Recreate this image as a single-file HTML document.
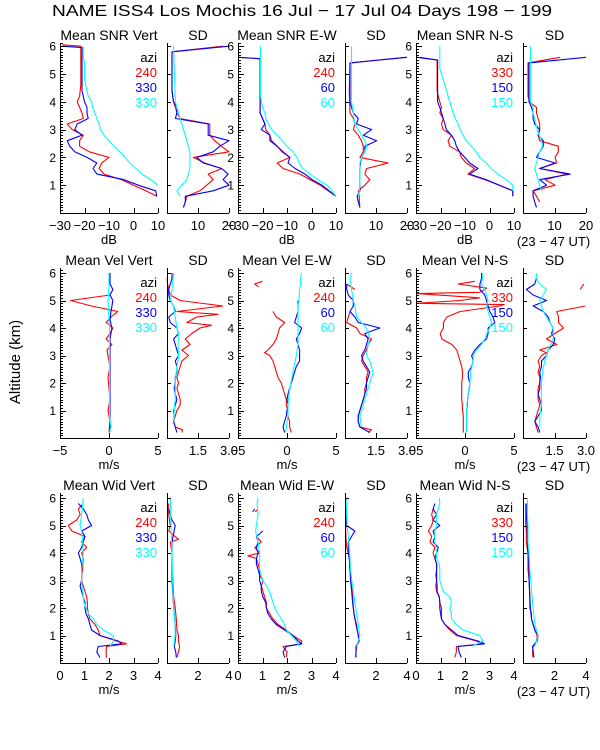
<!DOCTYPE html>
<html><head><meta charset="utf-8">
<style>
html,body{margin:0;padding:0;background:#fff;}
svg{display:block;font-family:"Liberation Sans",sans-serif;}
</style></head>
<body>
<svg id="chart" width="600" height="750" viewBox="0 0 600 750" xmlns="http://www.w3.org/2000/svg">
<rect x="0" y="0" width="600" height="750" fill="#fff"/>
<text x="52" y="16" font-size="16" textLength="500" lengthAdjust="spacingAndGlyphs">NAME ISS4 Los Mochis  16 Jul − 17 Jul 04 Days 198 − 199</text>
<text x="0" y="0" font-size="15" text-anchor="middle" transform="translate(20,362) rotate(-90)">Altitude (km)</text>
<g id="plots"></g>
</svg>
<script>
// ---------- Row 1: SNR (dB) ----------
const snrVert240 = [[0.6,9.5],[0.8,5],[1.0,0],[1.2,-5],[1.4,-12],[1.6,-14],[1.8,-13],[2.0,-10],[2.2,-18],[2.4,-22],[2.6,-22],[2.8,-20.5],[3.0,-25],[3.2,-27],[3.4,-20.5],[3.6,-21],[3.8,-22],[4.0,-23],[4.2,-22],[4.6,-21.5],[5.0,-21.5],[5.4,-21.5],[5.8,-21.5],[6.0,-21.5],[6.05,-29]];
const snrVert330b = [[0.6,9.5],[0.8,9],[1.0,2],[1.2,-4],[1.4,-15],[1.6,-16.5],[1.8,-15],[2.0,-19],[2.2,-24],[2.4,-26],[2.6,-27],[2.8,-21],[3.0,-24],[3.2,-23],[3.4,-18.5],[3.6,-19],[3.8,-19],[4.0,-20],[4.4,-21],[5.0,-21],[5.6,-21],[5.95,-21],[6.0,-29]];
const snrVert330c = [[1.0,10],[1.2,7],[1.4,3.5],[1.6,1],[1.8,-1.5],[2.0,-3.5],[2.2,-5.5],[2.4,-8],[2.6,-10],[2.8,-12],[3.0,-13.5],[3.2,-14],[3.4,-15],[3.6,-15.7],[3.8,-16.7],[4.0,-17],[4.2,-18.5],[4.4,-19],[4.6,-19.5],[4.8,-20],[5.4,-20],[5.6,-20.5],[6.0,-20.5]];
const snrVertSd240 = [[0.2,5.3],[0.4,5.9],[0.6,6.4],[0.8,10.6],[1.0,12.8],[1.2,14.9],[1.4,13.3],[1.6,17.6],[1.8,12.2],[2.0,8.5],[2.2,20],[2.4,17.6],[2.6,15.4],[2.8,13.8],[3.0,13.8],[3.2,13.8],[3.4,4.3],[3.6,3.2],[3.8,2.7],[4.0,2.1],[4.4,1.6],[5.0,1.6],[5.8,1.6],[6.0,18.1]];
const snrVertSd330b = [[0.2,5.3],[0.4,5.9],[0.6,5.9],[0.8,14.9],[1.0,20],[1.2,18.1],[1.4,19.7],[1.6,17.6],[1.8,11.7],[2.0,9.6],[2.2,14.9],[2.4,17],[2.6,20],[2.8,13.3],[3.0,13.3],[3.2,13.3],[3.4,2.7],[3.6,3.2],[3.8,3.2],[4.0,2.1],[4.4,1.6],[5.8,1.6],[6.0,20]];
const snrVertSd330c = [[0.6,4.3],[0.8,3.2],[1.0,4.8],[1.2,6.4],[1.4,6.9],[1.6,7.4],[1.8,7.4],[2.0,7.4],[2.2,7.4],[2.4,6.9],[2.6,6.4],[2.8,5.9],[3.0,5.3],[3.2,4.8],[3.4,4.3],[3.6,3.7],[3.8,3.2],[4.0,2.7],[5.0,2.4],[6.0,2.1]];
const snrEw240 = [[0.6,10],[1.0,3.5],[1.2,-0.6],[1.4,-4.7],[1.6,-11.6],[1.8,-14],[2.0,-8.8],[2.2,-11.6],[2.4,-14],[2.6,-16.3],[2.8,-17],[3.0,-18.7],[3.2,-19],[3.4,-20],[3.6,-21],[5.4,-21],[5.55,-21],[5.6,-30]];
const snrEw60b = [[0.6,10],[1.0,4.3],[1.2,0.2],[1.4,-2.7],[1.6,-6.7],[1.8,-9.6],[2.0,-8.8],[2.2,-12],[2.4,-14],[2.6,-17],[2.8,-17],[3.0,-20.5],[3.2,-19],[3.4,-20],[3.6,-21],[5.4,-21],[5.55,-21],[5.6,-30]];
const snrEw60c = [[0.6,10],[0.8,8.4],[1.0,6.3],[1.2,2.7],[1.4,-0.6],[1.6,-3.5],[1.8,-5],[2.0,-6],[2.2,-7.5],[2.4,-10],[2.6,-12],[2.8,-14],[3.0,-16.3],[3.2,-17.5],[3.4,-18.7],[3.6,-19],[3.8,-20],[4.0,-20.4],[4.2,-20.8],[6.0,-20.8]];
const snrEwSd240 = [[0.2,4.8],[0.4,4.6],[0.6,4.6],[0.8,4.3],[1.0,6.4],[1.2,8],[1.4,6.4],[1.6,7],[1.8,13.9],[2.0,4.8],[2.2,5.9],[2.4,5.9],[2.6,5.3],[2.8,4.3],[3.0,2.7],[3.2,3.2],[3.4,2.7],[3.6,1.6],[4.4,1.4],[5.4,1.6],[5.6,19.8]];
const snrEwSd60b = [[0.2,4.8],[0.4,4.3],[0.6,3.9],[0.8,4.8],[1.0,4.8],[1.2,4.8],[1.4,4.8],[1.6,4.8],[1.8,5.0],[2.0,5.3],[2.2,6.4],[2.4,6.4],[2.6,10.2],[2.8,5.9],[3.0,8.6],[3.2,3.7],[3.4,4.3],[3.6,2.7],[3.8,2.1],[4.0,1.6],[5.4,1.6],[5.6,20]];
const snrEwSd60c = [[0.6,4.3],[0.8,4.6],[1.0,4.8],[1.8,4.8],[2.0,5.3],[2.2,6.4],[2.4,7.0],[2.6,6.4],[2.8,5.3],[3.0,4.3],[3.2,3.2],[3.4,2.9],[3.6,2.7],[3.8,2.4],[4.0,2.1],[6.0,2.1]];
const snrNs330 = [[0.6,9.5],[0.8,9.5],[1.0,4],[1.2,-2],[1.4,-8.8],[1.6,-6.1],[1.8,-9.5],[2.0,-11.5],[2.2,-12.2],[2.4,-16.2],[2.6,-16.9],[2.8,-15.5],[3.0,-18.9],[3.2,-19.6],[3.4,-18.9],[3.6,-20.3],[3.8,-19.6],[4.0,-20.3],[4.2,-20.9],[4.4,-21.4],[5.5,-21.4],[5.6,-28.4]];
const snrNs150b = [[0.6,9.5],[0.8,9.5],[1.0,4],[1.2,-1.4],[1.4,-8.1],[1.6,-4.7],[1.8,-8.1],[2.0,-10.1],[2.2,-12.2],[2.4,-13.5],[2.6,-14.2],[2.8,-15.5],[3.0,-17.6],[3.2,-18.2],[3.4,-18.9],[3.6,-19.6],[3.8,-20.3],[4.0,-21.2],[5.5,-21.2],[5.6,-29.7]];
const snrNs150c = [[0.8,9.5],[1.0,9.5],[1.2,6.8],[1.4,3.4],[1.6,0.7],[1.8,-1.4],[2.0,-4],[2.2,-5.4],[2.4,-7.4],[2.6,-9.5],[2.8,-10.8],[3.0,-12],[3.2,-12.8],[3.4,-14],[3.6,-14.8],[3.8,-15.5],[4.0,-16.2],[4.2,-16.9],[4.4,-17.6],[4.6,-18.2],[4.8,-18.9],[5.0,-19.6],[5.2,-20.3],[6.0,-20.3]];
const snrNsSd330 = [[0.4,5.3],[0.6,4.3],[0.8,3.2],[1.0,10.2],[1.2,7.0],[1.4,13.9],[1.6,5.3],[1.8,10.7],[2.0,10.2],[2.2,11.2],[2.4,11.2],[2.6,5.3],[2.8,4.8],[3.0,5.3],[3.2,5.3],[3.4,4.8],[3.6,4.3],[3.8,4.3],[4.0,2.1],[4.2,1.6],[5.4,1.6],[5.6,11.8]];
const snrNsSd150b = [[0.2,4.3],[0.4,3.7],[0.6,3.2],[0.8,3.2],[1.0,7.5],[1.2,5.3],[1.4,15],[1.6,5.3],[1.8,10.2],[2.0,4.3],[2.2,5.3],[2.4,6.4],[2.6,6.4],[2.8,4.8],[3.0,5.3],[3.2,3.7],[3.4,3.2],[3.6,3.2],[3.8,2.7],[4.0,1.9],[5.4,1.9],[5.6,20]];
const snrNsSd150c = [[0.8,5.9],[1.0,5.3],[1.2,4.8],[1.4,4.3],[1.6,3.7],[1.8,4.3],[2.0,4.8],[2.2,5.3],[2.4,6.2],[2.6,5.9],[2.8,5.1],[3.0,4.5],[3.2,4.1],[3.4,3.7],[3.6,3.2],[3.8,3.2],[4.0,2.4],[6.0,2.4]];
// ---------- Row 2: velocity (m/s) ----------
const velVert240 = [[0.2,0],[0.6,0.1],[1.0,-0.1],[1.4,0.1],[1.8,0],[2.2,-0.1],[2.6,0.1],[3.0,-0.1],[3.2,-0.2],[3.4,0.3],[3.6,-0.3],[3.8,0.1],[4.0,0.4],[4.2,-0.3],[4.4,0.2],[4.6,0.9],[4.8,-1.8],[5.0,-3.9],[5.2,0.1]];
const velVert330b = [[0.2,0.1],[1.0,0.1],[2.0,0.1],[3.0,0.1],[3.6,0.1],[4.0,0.3],[4.3,0.1],[4.6,0.2],[5.0,0.4],[5.2,0.1],[5.4,0.4],[5.6,0.1],[5.8,0.1],[6.0,0.1]];
const velVert330c = [[0.2,0.05],[0.4,0.2],[0.8,0.05],[2.0,0.05],[3.0,0.05],[4.0,0.05],[5.0,-0.1],[5.4,0],[6.0,0]];
const velVertSd240 = [[0.2,0.72],[0.3,0.75],[0.4,0.4],[0.6,0.32],[0.8,0.4],[1.0,0.48],[1.2,0.64],[1.4,0.64],[1.6,0.56],[1.8,0.48],[2.0,0.56],[2.2,0.48],[2.4,0.56],[2.6,0.64],[2.8,0.72],[3.0,1.04],[3.2,0.72],[3.4,1.12],[3.6,0.88],[3.8,1.2],[4.0,1.6],[4.1,2.15],[4.2,0.96],[4.4,1.44],[4.5,2.47],[4.6,0.48],[4.8,2.7],[5.0,0.64],[5.2,0.16],[5.4,0.08],[5.6,0.03],[5.8,0]];
const velVertSd330b = [[0.2,0.48],[0.4,0.4],[0.6,0.32],[0.8,0.35],[1.0,0.32],[1.2,0.4],[1.4,0.48],[1.6,0.4],[1.8,0.35],[2.0,0.4],[2.2,0.4],[2.4,0.48],[2.6,0.48],[2.8,0.4],[3.0,0.56],[3.2,0.48],[3.4,0.4],[3.6,0.32],[3.8,0.56],[4.0,0.48],[4.2,0.16],[4.4,0.08],[4.6,0.4],[4.8,0.32],[5.0,0.16],[5.2,0.08],[5.4,0.08],[5.6,0.16],[5.8,0.24],[6.0,0.24]];
const velVertSd330c = [[0.6,0.32],[0.8,0.35],[1.0,0.35],[1.2,0.37],[1.4,0.4],[1.6,0.4],[2.0,0.4],[2.4,0.45],[3.0,0.56],[3.4,0.53],[3.8,0.56],[4.0,0.48],[4.4,0.4],[4.8,0.32],[5.0,0.16],[5.4,0.24],[6.0,0.32]];
const velEw240 = [[0.2,0.44],[0.4,0.27],[0.6,0.27],[0.8,0.1],[1.0,0.1],[1.2,-0.07],[1.4,-0.07],[1.6,-0.24],[1.8,-0.41],[2.0,-0.58],[2.2,-0.92],[2.4,-1.09],[2.6,-1.26],[2.8,-1.43],[3.0,-1.77],[3.1,-2.3],[3.2,-1.94],[3.4,-1.43],[3.6,-1.09],[3.8,-0.92],[4.0,-0.75],[4.2,-0.24],[4.4,-1.09],[4.6,-1.43],[4.7,null],[5.5,-2.9],[5.6,-3.3],[5.7,-2.5]];
const velEw60b = [[0.2,-0.24],[0.4,-0.41],[0.6,-0.24],[0.8,-0.07],[1.0,0],[1.2,0.1],[1.4,0],[1.6,0.1],[1.8,0.27],[2.0,0.44],[2.2,0.61],[2.4,0.78],[2.6,0.95],[2.8,1.29],[3.0,1.29],[3.2,1.29],[3.4,1.12],[3.6,0.95],[3.8,1.29],[4.0,1.5],[4.2,0.78],[4.4,0.95],[4.6,1.12],[4.8,1.12],[5.0,1.12]];
const velEw60c = [[0.2,-0.14],[0.4,-0.07],[0.8,0.1],[1.2,0.1],[1.6,0.2],[2.0,0.4],[2.4,0.61],[3.0,0.95],[3.4,1.12],[4.0,1.12],[4.4,1.12],[4.8,1.12],[5.0,1.22],[5.4,1.29],[5.6,1.39],[5.8,1.39],[6.0,1.46]];
const velEwSd240 = [[0.2,1.12],[0.3,1.28],[0.4,0.72],[0.6,0.64],[0.8,0.64],[1.0,0.72],[1.2,0.8],[1.4,0.88],[1.6,0.96],[1.8,0.96],[2.0,1.04],[2.2,1.04],[2.4,1.12],[2.6,0.96],[2.8,0.8],[3.0,0.88],[3.2,1.04],[3.4,1.12],[3.6,1.28],[3.8,0.72],[4.0,0.56],[4.2,0.08],[4.4,0.16],[4.6,0.24],[4.7,null],[5.4,0.48],[5.6,0.08]];
const velEwSd60b = [[0.2,1.2],[0.4,0.72],[0.6,0.64],[0.8,0.64],[1.0,0.72],[1.2,0.8],[1.4,0.88],[1.6,0.96],[1.8,1.04],[2.0,1.04],[2.2,1.12],[2.4,1.2],[2.6,1.04],[2.8,0.88],[3.0,0.8],[3.2,0.96],[3.4,1.04],[3.6,1.12],[3.8,0.96],[4.0,1.69],[4.2,0.64],[4.4,0.48],[4.6,0.24],[4.8,0.4],[5.0,0.4],[5.2,0.16],[5.4,0.08],[5.6,0.08]];
const velEwSd60c = [[0.4,0.8],[0.8,0.72],[1.2,0.88],[1.6,1.04],[2.0,1.2],[2.4,1.36],[2.8,1.2],[3.0,1.04],[3.4,1.12],[3.6,1.2],[4.0,1.04],[4.2,0.8],[4.4,0.56],[4.8,0.48],[5.0,0.4],[5.4,0.32],[5.8,0.24],[6.0,0.32]];
const velNs330 = [[0.2,-0.17],[0.8,-0.17],[1.0,-0.24],[1.2,-0.27],[1.4,-0.34],[2.0,-0.34],[2.2,-0.27],[2.4,-0.24],[2.6,-0.34],[2.8,-0.5],[3.0,-0.67],[3.2,-0.84],[3.4,-1.35],[3.6,-2.36],[3.8,-2.53],[4.0,-2.2],[4.2,-2.2],[4.4,-1.85],[4.6,-0.5],[4.8,3.5],[4.85,4.0],[4.9,-4.9],[5.0,-0.5],[5.1,1.5],[5.25,-4.9],[5.3,1.5],[5.45,2.2],[5.6,-0.7],[5.7,1.0]];
const velNs150b = [[0.2,0.17],[1.0,0.17],[1.2,0.24],[1.4,0.27],[1.6,0.34],[1.8,0.44],[2.0,0.5],[2.2,0.34],[2.4,0.34],[2.6,0.67],[2.8,0.84],[3.0,0.67],[3.2,1.01],[3.4,1.52],[3.6,2.19],[3.8,2.36],[4.0,2.36],[4.2,3.03],[4.4,2.86],[4.6,2.53],[4.8,2.36],[5.0,2.19],[5.2,2.02],[5.4,1.52],[5.6,1.52],[5.8,1.68],[6.0,1.68]];
const velNs150c = [[0.2,0.17],[1.0,0.17],[1.4,0.24],[2.0,0.5],[2.4,0.57],[2.8,0.84],[3.0,0.84],[3.2,1.18],[3.4,1.68],[3.6,2.02],[3.8,2.19],[4.0,2.53],[4.2,2.7],[4.4,2.53],[4.6,2.36],[4.8,2.19],[5.0,2.36],[5.2,2.19],[5.4,2.02],[5.6,1.68],[5.8,1.78],[6.0,1.78]];
const velNsSd330 = [[0.2,0.72],[0.4,0.64],[0.6,0.56],[0.8,0.64],[1.0,0.72],[1.2,0.8],[1.4,0.72],[1.8,0.72],[2.0,0.8],[2.2,0.8],[2.4,0.72],[2.6,0.8],[2.8,0.72],[3.0,0.88],[3.1,1.12],[3.2,0.8],[3.4,1.61],[3.6,1.12],[3.8,1.52],[4.0,1.93],[4.2,1.69],[4.4,1.69],[4.6,1.61],[4.8,2.97],[4.9,null],[5.4,2.73],[5.6,2.89]];
const velNsSd150b = [[0.2,0.8],[0.4,0.72],[0.6,0.56],[0.8,0.72],[1.0,0.88],[1.2,0.88],[1.4,0.8],[1.6,0.72],[1.8,0.8],[2.0,0.8],[2.2,0.83],[2.4,0.8],[2.6,0.88],[2.8,0.88],[3.0,1.12],[3.2,1.2],[3.4,1.44],[3.6,1.52],[3.8,1.36],[4.0,1.44],[4.2,1.28],[4.4,1.2],[4.6,0.96],[4.8,0.48],[5.0,1.12],[5.2,0.48],[5.4,0.16],[5.6,0.56],[5.8,0.64]];
const velNsSd150c = [[0.4,0.8],[0.8,0.8],[1.2,0.88],[1.6,0.88],[2.0,0.88],[2.4,0.93],[2.8,1.04],[3.2,1.2],[3.6,1.44],[4.0,1.44],[4.2,1.28],[4.4,1.12],[4.6,0.96],[4.8,0.88],[5.0,0.8],[5.2,0.96],[5.4,1.12],[5.6,0.8],[5.8,0.64],[6.0,0.64]];
// ---------- Row 3: spectral width (m/s) ----------
const widVert240 = [[0.2,1.9],[0.4,1.88],[0.6,1.9],[0.7,2.72],[0.8,2.31],[1.0,1.63],[1.2,1.56],[1.4,1.43],[1.6,1.22],[1.8,1.16],[2.0,1.12],[2.2,1.12],[2.4,1.09],[2.6,1.02],[2.8,0.95],[3.0,0.88],[3.2,0.88],[3.4,0.93],[3.6,0.93],[3.8,0.95],[4.0,0.88],[4.2,1.09],[4.4,0.88],[4.6,1.02],[4.8,0.48],[5.0,0.34],[5.2,0.68],[5.4,0.82],[5.6,0.75],[5.8,0.95]];
const widVert330b = [[0.2,1.63],[0.4,1.5],[0.6,1.56],[0.7,2.52],[0.8,2.38],[1.0,1.63],[1.2,1.29],[1.4,1.22],[1.6,1.16],[1.8,1.06],[2.0,1.02],[2.2,1.02],[2.4,0.95],[2.6,0.88],[2.8,0.82],[3.0,0.88],[3.2,0.88],[3.4,0.88],[3.6,0.88],[3.8,0.82],[4.0,0.75],[4.2,0.88],[4.4,0.95],[4.6,1.02],[4.8,0.88],[5.0,1.29],[5.2,1.16],[5.4,1.09],[5.6,0.95],[5.8,0.75]];
const widVert330c = [[0.6,2.04],[0.8,2.18],[1.0,2.18],[1.2,1.77],[1.4,1.5],[1.6,1.36],[1.8,1.16],[2.0,1.06],[2.2,0.98],[2.4,0.95],[2.6,0.93],[2.8,0.9],[3.0,0.88],[3.4,0.88],[3.8,0.93],[4.0,0.95],[4.4,0.93],[4.8,0.88],[5.0,0.82],[5.4,0.88],[5.8,0.93],[6.0,0.95]];
const widVertSd240 = [[0.2,0.64],[0.4,0.74],[0.6,0.81],[0.8,0.74],[1.0,0.74],[1.2,0.64],[1.6,0.6],[2.0,0.53],[2.4,0.43],[3.0,0.38],[3.6,0.32],[4.0,0.32],[4.4,0.21],[4.5,0.74],[4.8,0.11],[5.0,0.21],[5.4,0.11],[5.8,0.11]];
const widVertSd330b = [[0.2,0.6],[0.4,0.57],[0.6,0.47],[0.8,0.53],[1.0,0.57],[1.4,0.53],[2.0,0.43],[3.0,0.32],[4.0,0.32],[4.4,0.32],[5.0,0.53],[5.2,0.32],[5.6,0.11]];
const widVertSd330c = [[0.6,0.43],[1.0,0.53],[1.4,0.53],[2.0,0.43],[3.0,0.36],[4.0,0.32],[5.0,0.26],[6.0,0.21]];
const widEw240 = [[0.2,1.97],[0.4,2.0],[0.6,1.84],[0.7,2.6],[0.8,2.59],[1.0,2.24],[1.2,1.97],[1.4,1.63],[1.6,1.43],[1.8,1.29],[2.0,1.16],[2.2,1.16],[2.4,1.09],[2.6,1.02],[2.8,0.95],[3.0,1.02],[3.2,0.88],[3.4,0.88],[3.6,0.82],[3.8,0.75],[3.9,0.4],[4.0,0.88],[4.2,0.68],[4.4,0.95],[4.6,0.75],[4.7,null],[5.5,0.7],[5.6,0.82]];
const widEw60b = [[0.2,1.9],[0.4,1.84],[0.6,1.97],[0.7,2.6],[0.8,2.45],[1.0,2.24],[1.2,1.9],[1.4,1.56],[1.6,1.36],[1.8,1.22],[2.0,1.16],[2.2,1.13],[2.4,1.02],[2.6,0.95],[2.8,0.95],[3.0,0.88],[3.2,0.88],[3.4,0.82],[3.6,0.75],[3.8,0.75],[4.0,0.82],[4.2,0.75],[4.4,0.82],[4.6,0.75],[4.8,1.02],[4.9,null],[5.5,0.6],[5.6,0.68]];
const widEw60c = [[0.6,2.5],[0.8,2.38],[1.0,2.18],[1.2,1.97],[1.4,1.9],[1.6,1.77],[1.8,1.63],[2.0,1.5],[2.2,1.43],[2.4,1.36],[2.6,1.29],[2.8,1.16],[3.0,1.02],[3.2,0.95],[3.4,0.88],[3.6,0.88],[4.0,0.88],[4.4,0.82],[4.8,0.72],[5.0,0.75],[5.4,0.82],[5.8,0.78],[6.0,0.82]];
const widEwSd240 = [[0.2,0.69],[0.4,0.71],[0.6,0.75],[0.8,0.92],[1.0,0.86],[1.2,0.79],[1.4,0.75],[1.6,0.64],[1.8,0.58],[2.0,0.54],[2.4,0.49],[2.8,0.43],[3.0,0.43],[3.4,0.32],[3.8,0.28],[4.0,0.21],[4.2,0.11],[4.6,0.06],[5.0,0.04],[5.6,0.06]];
const widEwSd60b = [[0.2,0.71],[0.6,0.71],[0.8,0.88],[1.0,0.86],[1.4,0.71],[1.8,0.58],[2.2,0.49],[2.6,0.43],[3.0,0.36],[3.4,0.32],[3.8,0.28],[4.0,0.21],[4.4,0.21],[4.8,0.64],[5.0,0.11],[5.6,0.06]];
const widEwSd60c = [[0.6,0.75],[1.0,0.96],[1.4,0.86],[1.8,0.75],[2.2,0.64],[2.6,0.54],[3.0,0.43],[3.4,0.36],[3.8,0.32],[4.2,0.28],[4.6,0.21],[5.0,0.15],[5.4,0.11],[6.0,0.11]];
const widNs330 = [[0.2,1.58],[0.4,1.65],[0.6,1.65],[0.7,2.73],[0.8,2.46],[1.0,1.65],[1.2,1.38],[1.4,1.18],[1.6,1.04],[2.0,1.04],[2.2,0.97],[2.4,0.95],[2.6,0.84],[2.8,0.81],[3.0,0.84],[3.2,0.81],[3.4,0.84],[3.6,0.84],[3.8,0.77],[4.0,0.7],[4.2,0.77],[4.4,0.57],[4.6,0.64],[4.8,0.5],[5.0,0.64],[5.2,0.7],[5.4,0.64],[5.6,0.7]];
const widNs150b = [[0.2,1.85],[0.4,1.76],[0.6,1.72],[0.7,2.8],[0.8,2.53],[1.0,1.72],[1.2,1.45],[1.4,1.18],[1.6,1.04],[1.8,1.0],[2.0,0.97],[2.2,0.97],[2.4,0.95],[2.6,0.86],[2.8,0.86],[3.0,0.84],[3.6,0.84],[3.8,0.77],[4.0,0.84],[4.2,0.91],[4.4,0.7],[4.6,0.77],[4.8,0.7],[5.0,0.97],[5.2,0.7],[5.4,0.84],[5.6,0.7],[5.8,0.77]];
const widNs150c = [[0.6,2.26],[0.8,2.73],[1.0,2.6],[1.2,1.92],[1.4,1.65],[1.6,1.45],[1.8,1.45],[2.0,1.38],[2.2,1.45],[2.4,1.38],[2.6,1.11],[2.8,1.04],[3.0,0.97],[3.4,0.97],[3.6,0.95],[3.8,0.84],[4.0,0.84],[4.4,0.77],[4.8,0.77],[5.0,0.84],[5.4,0.84],[5.8,0.97],[6.0,0.95]];
const widNsSd330 = [[0.2,0.64],[0.4,0.6],[0.6,0.64],[0.8,0.86],[1.0,0.9],[1.2,0.75],[1.4,0.64],[1.6,0.54],[1.8,0.54],[2.0,0.43],[2.4,0.43],[3.0,0.39],[3.4,0.32],[4.0,0.32],[4.4,0.21],[4.8,0.21],[5.0,0.17],[5.8,0.17]];
const widNsSd150b = [[0.2,0.69],[0.6,0.6],[0.8,0.9],[1.0,0.96],[1.2,0.75],[1.6,0.54],[2.0,0.47],[2.4,0.43],[3.0,0.39],[3.4,0.39],[4.0,0.32],[4.4,0.28],[5.0,0.26],[5.4,0.21],[5.8,0.21]];
const widNsSd150c = [[0.6,0.75],[0.8,0.86],[1.0,0.96],[1.4,0.75],[2.0,0.64],[2.4,0.58],[3.0,0.49],[3.4,0.43],[4.0,0.39],[4.4,0.32],[5.0,0.32],[5.4,0.28],[6.0,0.28]];

// tick labels
const snrTicks = [-30,-20,-10,0,10];
const snrSdTicks = [10,20];
const velTicks = [-5,0,5];
const velSdTicks = [1.5,3.0];
const widTicks = [0,1,2,3,4];
const widSdTicks = [2,4];
const altTicks = [1,2,3,4,5,6];
const legend1 = ['240','330','330'], legend2 = ['240','60','60'], legend3 = ['330','150','150'];

// layout (not data)
const colX = [[60,158],[167,229],[238,336],[345,407],[416,514],[523,586]];
const rowsLayout = [
  {bottom:213, k:27.8, unit:'dB', tag:'snr'},
  {bottom:438, k:27.5, unit:'m/s', tag:'vel'},
  {bottom:663, k:27.5, unit:'m/s', tag:'wid'}
];
const COLORS = ['#ff0000','#0000ff','#00ffff'];
const rows = [
  [
    {title:'Mean SNR Vert', dom:[-30,10], ticks:snrTicks, big:true, legend:legend1, series:[snrVert240,snrVert330b,snrVert330c]},
    {title:'SD', dom:[0,20], ticks:snrSdTicks, series:[snrVertSd240,snrVertSd330b,snrVertSd330c], fmt:v=>String(v)},
    {title:'Mean SNR E-W', dom:[-30,10], ticks:snrTicks, big:true, legend:legend2, series:[snrEw240,snrEw60b,snrEw60c]},
    {title:'SD', dom:[0,20], ticks:snrSdTicks, series:[snrEwSd240,snrEwSd60b,snrEwSd60c]},
    {title:'Mean SNR N-S', dom:[-30,10], ticks:snrTicks, big:true, legend:legend3, series:[snrNs330,snrNs150b,snrNs150c]},
    {title:'SD', dom:[0,20], ticks:snrSdTicks, series:[snrNsSd330,snrNsSd150b,snrNsSd150c], ut:true}
  ],
  [
    {title:'Mean Vel Vert', dom:[-5,5], ticks:velTicks, big:true, legend:legend1, series:[velVert240,velVert330b,velVert330c]},
    {title:'SD', dom:[0,3], ticks:velSdTicks, dec:1, series:[velVertSd240,velVertSd330b,velVertSd330c]},
    {title:'Mean Vel E-W', dom:[-5,5], ticks:velTicks, big:true, legend:legend2, series:[velEw240,velEw60b,velEw60c]},
    {title:'SD', dom:[0,3], ticks:velSdTicks, dec:1, series:[velEwSd240,velEwSd60b,velEwSd60c]},
    {title:'Mean Vel N-S', dom:[-5,5], ticks:velTicks, big:true, legend:legend3, series:[velNs330,velNs150b,velNs150c]},
    {title:'SD', dom:[0,3], ticks:velSdTicks, dec:1, series:[velNsSd330,velNsSd150b,velNsSd150c], ut:true}
  ],
  [
    {title:'Mean Wid Vert', dom:[0,4], ticks:widTicks, big:true, legend:legend1, series:[widVert240,widVert330b,widVert330c]},
    {title:'SD', dom:[0,4], ticks:widSdTicks, series:[widVertSd240,widVertSd330b,widVertSd330c]},
    {title:'Mean Wid E-W', dom:[0,4], ticks:widTicks, big:true, legend:legend2, series:[widEw240,widEw60b,widEw60c]},
    {title:'SD', dom:[0,4], ticks:widSdTicks, series:[widEwSd240,widEwSd60b,widEwSd60c]},
    {title:'Mean Wid N-S', dom:[0,4], ticks:widTicks, big:true, legend:legend3, series:[widNs330,widNs150b,widNs150c]},
    {title:'SD', dom:[0,4], ticks:widSdTicks, series:[widNsSd330,widNsSd150b,widNsSd150c], ut:true}
  ]
];

const NS = 'http://www.w3.org/2000/svg';
const root = document.getElementById('plots');
function mk(tag, attrs, parent){
  const e = document.createElementNS(NS, tag);
  for (const k in attrs) e.setAttribute(k, attrs[k]);
  (parent||root).appendChild(e);
  return e;
}
function fmtTick(v, dec){
  const s = dec ? v.toFixed(dec) : String(v);
  return s.replace('-', '−');
}

rows.forEach((row, ri) => {
  const L = rowsLayout[ri];
  const top = L.bottom - 170;
  const yScale = a => L.bottom - a * L.k;
  row.forEach((p, ci) => {
    const [x0, x1] = colX[ci];
    const xScale = v => x0 + (v - p.dom[0]) / (p.dom[1] - p.dom[0]) * (x1 - x0);
    const g = mk('g', {});
    
    
    // title
    const t = mk('text', {x:(x0 + x1) / 2, y:top - 3, 'font-size':14, 'text-anchor':'middle'}, g);
    t.textContent = p.title;
    
    
    // series
    p.series.forEach((s, si) => {
      let d = '', pen = false;
      s.forEach(pt => {
        if (pt[1] === null) { pen = false; return; }
        const X = xScale(pt[1]).toFixed(1), Y = yScale(pt[0]).toFixed(1);
        d += (pen ? 'L' : 'M') + X + ' ' + Y + ' ';
        pen = true;
      });
      const path = mk('path', {d:d, fill:'none', stroke:COLORS[si], 'stroke-width':1.1, 'stroke-linejoin':'round'}, g);
      
      
    });
    // axes
    const ax = mk('path', {d:'M' + (x0 + 0.5) + ' ' + top + 'V' + (L.bottom + 0.5) + 'H' + x1, fill:'none', stroke:'#000', 'stroke-width':1, 'shape-rendering':'crispEdges'}, g);
    
    
    let td = '';
    if (p.big) {
      for (let i = 1; i <= 61; i++) {
        const a = i / 10, Y = Math.round(yScale(a)) + 0.5;
        const len = (i % 10 === 0) ? 5 : 2;
        td += 'M' + x0 + ' ' + Y + 'h' + (len + 1);
      }
    } else {
      altTicks.forEach(a => { const Y = Math.round(yScale(a)) + 0.5; td += 'M' + x0 + ' ' + Y + 'h4'; });
    }
    p.ticks.forEach(v => { const X = Math.round(xScale(v)) + 0.5; td += 'M' + X + ' ' + L.bottom + 'v-5'; });
    mk('path', {d:td, stroke:'#000', 'stroke-width':1, 'shape-rendering':'crispEdges'}, g);
    // x tick labels
    p.ticks.forEach(v => {
      const tl = mk('text', {x:xScale(v), y:L.bottom + 17, 'font-size':13, 'text-anchor':'middle'}, g);
      tl.textContent = fmtTick(v, p.dec);
      
      
    });
    if (p.big) {
      altTicks.forEach(a => {
        const yl = mk('text', {x:x0 - 4, y:yScale(a) + 4.5, 'font-size':12, 'text-anchor':'end'}, g);
        yl.textContent = String(a);
        
        
      });
      const xl = mk('text', {x:(x0 + x1) / 2, y:L.bottom + 31, 'font-size':13, 'text-anchor':'middle'}, g);
      xl.textContent = L.unit;
      
      
      // legend
      const lg = mk('g', {}, g);
      
      
      const items = [['azi', '#000']].concat(p.legend.map((s, k) => [s, COLORS[k]]));
      items.forEach((it, k) => {
        const lt = mk('text', {x:x1 - 1, y:top + 19 + k * 15, 'font-size':13, 'text-anchor':'end', fill:it[1]}, lg);
        lt.textContent = it[0];
        
        
      });
    }
    if (p.ut) {
      const ut = mk('text', {x:(x0 + x1) / 2 - 1, y:L.bottom + 33, 'font-size':13, 'text-anchor':'middle'}, g);
      ut.textContent = '(23 − 47 UT)';
      
      
    }
  });
});
</script>
</body></html>
